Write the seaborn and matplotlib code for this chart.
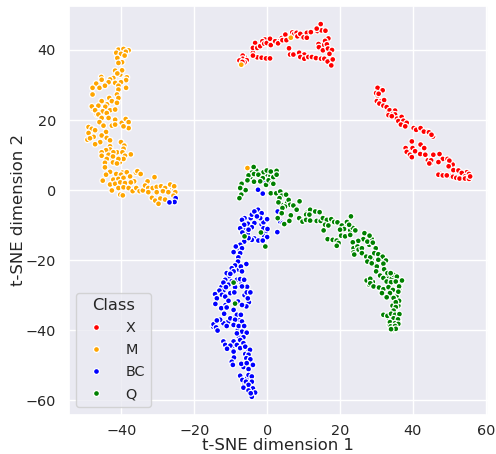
import pandas as pd
import matplotlib
matplotlib.use("Agg")
import matplotlib.pyplot as plt
import seaborn as sns

classes = ["X", "M", "BC", "Q"]
palette = ["red", "orange", "blue", "green"]

x_points = [
    (-6.1,37.9),(-7,35.9),(-3.2,40.8),(-0.6,43),(4,43.4),(6.9,45),(8.9,43.9),(14.7,40.6),(15.4,41.5),(17.6,36.7),
    (30.9,29),(30.3,28.5),(30.3,27),(31.4,24.4),(33.2,22),(37,19.4),(44,16.7),(45.5,15.3),(38.9,11.5),(38.8,10.5),
    (44.9,7.7),(50.9,7.3),(54.6,4.5),(55.1,3.6),(47.6,4.6),(50.3,4),
    (-6.7,38.4),(-6.7,37.5),(-7.6,37),(-5.6,37.1),(-6.2,36.5),(-6.8,36.6),(-3.9,39.2),(-3.3,42),(-3.9,40.6),(-2.7,40.6),
    (-1.9,41.1),(-1.3,42.5),(-0.8,41.8),(-0.1,42),(0.8,43.2),(1,41.4),(2.5,42.3),(3.4,42.5),(-2.7,37.9),(-1.5,37.8),
    (-0.3,37.6),(0.8,37.6),(-3.9,38.4),(2.2,42.5),(3,41.9),(4.2,42.8),(5,44.4),(5.3,42.8),(7.4,44.5),(8.1,44.9),
    (8.3,43.9),(9.1,44.6),(10,43.6),(10.9,44.9),(12,45.1),(13.8,45.4),(14.9,45.6),(16,45.5),(14.7,47.4),(13.6,46.1),
    (16.8,43.3),(15.9,42.6),(14.1,41.7),(16.4,41.6),(14.2,40.8),(15.3,39.9),(16.7,40.4),(17.8,40),(17.1,38.9),(6,40.5),
    (6.3,38.7),(7.2,38.7),(8.8,39.2),(10.2,38.7),(9.1,38),(10.2,37.5),(11.3,38),(12.3,38),(13.4,37.7),(14.8,37.5),
    (15.7,37.5),(16.6,36.7),(18,37.3),(17.6,35.6),(10.9,43.5),(30.3,29.2),(31.7,28.5),(29.9,27.7),(30.6,27.5),(30.1,25.4),
    (31.3,25.4),(32.1,25.7),(30.8,24.7),(31.9,24.1),(32.8,23.7),(33.6,22.8),(35.1,22.7),(34.4,21.7),(35.1,21.6),(33.3,21.4),
    (35.6,20.4),(36.9,20.9),(34.2,21.1),(36,19.7),(37.4,19.8),(38.3,19.2),(36.7,18.7),(37.9,18.2),(40.2,17.7),(40.9,17.2),
    (42.1,17.7),(43,16.7),(44.4,16.5),(45.1,15.8),(39.7,13.9),(42.1,13),(38,12),(39.9,12),(43.1,12),(38.3,10.9),
    (40.6,11.1),(39.2,10.1),(42,10.3),(43.4,10.1),(45.6,10.1),(39.7,9.4),(44.1,8.5),(45,8.5),(44.5,7.6),(47.3,10.3),
    (48.2,8.9),(47,8),(49.5,8.9),(50,8.4),(49.8,6.8),(51.1,5.7),(52.5,5.6),(54.8,5.1),(53.4,4.9),(54.3,3.9),
    (55.4,4.6),(47,4.4),(48.2,4.2),(49.3,4.2),(51,3.8),(51.9,3.5),(52.8,3.3),(54.3,3.3),(55.4,3.2),(55.7,3.9),
]

m_points = [
    (-40,39.6),(-44.7,22.5),(-47.6,23),(-46.7,21.6),(-43.9,24.5),(-40.3,33),(-41.2,10.8),(-40.4,8),(-43.5,9),(-38.8,3.8),
    (-39.7,5),(-36,5),(-27,-0.3),(-26,0.2),(-25.5,0),
    (-40.8,40.1),(-39.4,40.3),(-38,39.9),(-38.8,39.5),(-41.4,39.2),(-40.1,38.9),(-39.1,38.4),(-41.1,37.7),(-39.8,36.5),(-40.8,36.3),
    (-41.7,34.1),(-39.8,34.2),(-41.1,33.3),(-42.2,32),(-43.1,31.6),(-38.5,32.2),(-38.7,31.4),(-40.1,30.8),(-41.7,30.6),(-43.5,30.8),
    (-45.5,32.3),(-45.4,31.5),(-46.9,30.4),(-47.9,29.2),(-46,29.2),(-44.5,29.8),(-47.9,27.3),(-40.8,29.8),(-38.7,29.2),(-40.8,28.7),
    (-41.2,27.3),(-40.8,26.3),(-43.3,26.3),(-45.4,25.4),(-46.3,24.1),(-48.1,23.9),(-47.2,22.8),(-42.6,25.4),(-44.4,23.8),(-41.2,24.9),
    (-45.1,22.5),(-43.1,22.8),(-41.7,23),(-46.3,21.6),(-44,22),(-45.4,20.6),(-43.5,20.6),(-46,19.4),(-41.7,20.1),(-44.9,18.4),
    (-42.6,18.4),(-41.7,18.7),(-39.9,19.2),(-38.8,20.3),(-38,19.4),(-38,17.7),(-39.4,18.2),(-49,18),(-48.1,17.5),(-47.2,17.1),
    (-49,16.3),(-47.6,15.2),(-49.3,14.4),(-48.6,14.8),(-44.2,16.6),(-45.4,15.6),(-44,14.9),(-43.1,14.2),(-45.8,13.7),(-47.2,13.1),
    (-43.1,12.5),(-40.1,13.7),(-39.2,12.7),(-39.4,11.8),(-43.1,11.6),(-44.2,11.4),(-45.4,10.8),(-42.2,10.8),(-39.7,10.8),(-45.4,9.8),
    (-43.5,10.1),(-37.4,10.2),(-39,9.8),(-44,8.9),(-42.3,9.6),(-39.4,8.9),(-40.8,8.9),(-44.5,7.8),(-42.3,7.9),(-41.2,7.6),
    (-44.5,6.5),(-43.1,5.2),(-44.2,4.4),(-45.1,2.7),(-41.4,4.6),(-40.1,4.4),(-38.5,5.1),(-37.6,3.9),(-35.6,5.4),(-34.7,4.6),
    (-30.9,3.7),(-42.2,3),(-40.8,3.2),(-39.4,3.5),(-36.5,2.5),(-43.1,1.6),(-41.7,1.8),(-40.3,2.2),(-39,2),(-37.4,2.2),
    (-32.8,2.5),(-42.6,-0.1),(-40.8,0.6),(-39.4,0.8),(-38,0.6),(-36.9,-0.3),(-35.9,0.6),(-35,-0.3),(-34.1,-0.1),(-33.5,1.3),
    (-32.6,0.6),(-31.4,0.6),(-30.3,0.9),(-29.1,1.1),(-28,0.6),(-26.6,1.6),(-25.5,1.1),(-40.3,-1.3),(-39.6,-1.5),(-32.6,-0.6),
    (-30.3,-0.6),(-28.6,-0.3),(-27.1,-0.6),(-25.2,-0.6),(-31.6,-2.2),(-30.7,-3),(-29.3,-2.4),(-28,-2.7),(-29.8,-3.9),(-25.7,-1.6),
    (-7.1,35.8),(6.5,43.5),(-5.4,6.3),
]

bc_points = [
    (-3,-6.8),(-2,-7),(-4.5,-8),(-6.2,-8),(-1.5,-9.8),(-0.5,-12),(-6,-11),(-5.3,-12.5),(-3.5,-13.8),(-7.5,-17),
    (-8.6,-22.8),(-7.8,-22.7),(-10.5,-24.6),(-9.7,-26),(-7,-26.5),(-5.5,-27.6),(-12.5,-27.6),(-12,-28.7),(-6.2,-30),(-5,-32),
    (-11.4,-32.8),(-8.6,-36),(-10.7,-37.6),(-7.6,-37),(-12,-38),(-14.8,-39),(-8,-39.8),(-7.7,-42),(-9.6,-45),(-8,-43.5),
    (-5.2,-46),(-4.9,-49),(-6.5,-50.5),(-5.5,-53.7),(-6.2,-55.5),(-4.5,-56),(-4.2,-57.5),
    (-25.1,-2.3),(-25.4,-3.4),(-26.8,-3.5),(-2.5,0.1),(-1.2,-1),(-0.7,2.2),(2.9,-6.1),(3.6,-9),(2.8,-12),(4.3,-9.4),
    (-2.5,-5.6),(-4.2,-7),(-3.5,-6.1),(-1.5,-6.6),(-1,-9.2),(0,-8.3),(-1.9,-8),(-2.8,-7.5),(-3.5,-9.4),(-5.3,-9.6),
    (-6.9,-8.5),(-6.3,-9.9),(-4.2,-10.6),(-5.1,-11.3),(-1,-10.9),(0.1,-11.1),(-7.4,-10.9),(-6.8,-12.1),(-0.8,-13.1),(0,-13.4),
    (-2.4,-14.4),(-1.2,-14.4),(-4.2,-14.2),(-5.1,-13.7),(-6.3,-14.7),(-7.4,-15.6),(-8.6,-16.1),(-6.9,-16.6),(-9.2,-17.7),(-7.4,-18),
    (-7.9,-19.2),(-8,-20.4),(-8.8,-21.5),(-5.7,-21.1),(-7.2,-21.8),(-9.7,-22.3),(-11.1,-23.7),(-9.2,-23.2),(-6.9,-23.2),(-10.1,-23.9),
    (-11.5,-25.6),(-10.6,-27),(-8.3,-25.6),(-7.4,-25.4),(-6.3,-25.6),(-12,-26.4),(-13.1,-28.7),(-11.3,-27.7),(-8.8,-27.7),(-6.9,-27.5),
    (-5.6,-29.2),(-4.6,-29.2),(-14.3,-29.7),(-12.4,-29.9),(-11.5,-30.4),(-10.1,-29.4),(-9,-29.2),(-13.8,-30.9),(-14.2,-32.5),(-10.6,-31.6),
    (-8,-31.8),(-5.7,-33.2),(-6.9,-32.8),(-5.3,-30.9),(-12.6,-33.7),(-11.1,-33.5),(-9.2,-34.2),(-11.8,-35.3),(-8.3,-35.6),(-7.2,-35.6),
    (-12.9,-37),(-10.1,-36.6),(-8.8,-37),(-6.9,-37.5),(-14.7,-38.3),(-13.8,-37.2),(-14,-39.2),(-13.6,-40.1),(-11.1,-38.8),(-9.2,-38.5),
    (-7.8,-38.8),(-6.3,-38.8),(-6.9,-40.4),(-8.3,-40.9),(-5.6,-40.7),(-6.5,-42),(-7.4,-42.8),(-12,-43.2),(-11.5,-44.2),(-9.2,-43.2),
    (-8.3,-44.2),(-6.5,-43.7),(-10.1,-44.4),(-11,-45.3),(-7.4,-45.1),(-6,-44.7),(-4.7,-45.6),(-9.2,-46.1),(-6,-46.8),(-5.1,-47),
    (-9.1,-47.8),(-5.7,-48),(-4.6,-48.3),(-9.7,-49),(-9.4,-49.9),(-7.1,-49.6),(-5.6,-49.4),(-3.9,-49.9),(-5.1,-51.1),(-7.4,-53),
    (-5.1,-52.8),(-4.2,-53.2),(-6.8,-54.2),(-5.8,-54.7),(-4.2,-54.7),(-5.1,-55.6),(-6.5,-56.4),(-3.9,-56.6),(-3.3,-57.8),(-5.1,-57.2),
    (-4.2,-59),(-4.5,-58),
]

q_points = [
    (-3,5.6),(0,4.5),(0.9,4),(-4.6,3.7),(-1,5.1),(5.5,-3.6),(3.9,-4.2),(6.5,-7.2),(10.8,-6.5),(11,-7.8),
    (16,-9.2),(17,-9),(20.5,-10.8),(21.5,-10),(22.8,-11.5),(23.5,-10.8),(28.7,-14),(28,-15.6),(29.6,-17.2),(30.8,-18.6),
    (31.5,-19.6),(24.6,-15.2),(24.3,-17.4),(28.6,-19.8),(29.3,-21.2),(33.2,-25),(34.2,-25.3),(36.5,-26.6),(36.2,-28.3),(34,-30.2),
    (35.5,-30.4),(36,-33),(34.4,-33),(35,-34.9),(33.4,-36.6),(36.1,-37.5),(34.3,-37.2),(34.5,-39.2),(33.5,-38.3),(28,-27),(29,-26.2),
    (-3.7,6.6),(-4.2,5),(-5.1,4.2),(-3.6,4.6),(-2.4,4.4),(-0.1,5.6),(1,5.3),(2.6,5.5),(-1.2,3.4),(-1.9,2.5),
    (-3.6,2.4),(-5.4,2.8),(-7,1.8),(-5.9,0),(-7.4,0.6),(-7.1,-1.3),(-7.6,-2.3),(-0.3,1.5),(0.4,2.8),(1.7,3.7),
    (1.3,2),(2.6,4.4),(1.7,1.8),(1,-0.9),(2.5,-0.9),(3.6,-0.4),(4,-1.6),(5.2,-1.3),(3.4,-2.3),(3.1,-3.5),
    (5.9,-2.8),(6.3,-4.2),(4.9,-4.7),(4.2,-5.1),(7.2,-4.4),(8.9,-3.2),(8.1,-5.6),(4,-6.6),(2.9,-8),(4.7,-9.7),
    (6.1,-8.8),(8.8,-8),(9.7,-9),(10.7,-7),(11.8,-5.6),(13.2,-6.1),(14.4,-6.3),(11.6,-7),(10.7,-8.5),(11.8,-8.7),
    (13.6,-8.8),(14.7,-8.8),(15.3,-8),(16.4,-8.5),(15.9,-9.9),(16.8,-10.1),(17.6,-8.3),(18.4,-9.1),(19.3,-9.2),(23,-7.5),
    (21.9,-9.1),(22.5,-9.9),(20.5,-10.1),(21.1,-11.1),(20,-11.3),(24.2,-11.5),(15.5,-11.5),(20.3,-13),(21.4,-13.2),(22.8,-12.8),
    (16.6,-14),(18,-14.2),(19.1,-14.4),(19.6,-15.1),(19.1,-15.9),(26.7,-12.3),(28.1,-13),(26.4,-14),(25,-14.5),(23.5,-14.9),
    (23.7,-16.6),(24.8,-16.1),(27.5,-14.7),(29,-15),(23.7,-17.8),(25.1,-17),(26,-16.6),(29.8,-16.6),(26,-18),(23.9,-18.4),
    (27.2,-19),(28.3,-19.2),(29.4,-18),(30.5,-18.3),(31.7,-19),(30.5,-19.9),(32.6,-20.1),(27.5,-20.4),(28.7,-20.9),(30.1,-21.8),
    (31.9,-21),(29.9,-23.2),(32.1,-22.6),(31,-24.4),(33,-23.7),(34.7,-24.2),(33.9,-23.7),(31.9,-25.1),(35.6,-24.7),(32.8,-26.1),
    (37,-25.8),(27.3,-25.8),(28.3,-25.3),(28.3,-26.6),(29.2,-27.5),(34,-26.3),(35.3,-26.1),(36.2,-27.5),(30.7,-27.8),(31.9,-28.3),
    (33.3,-27.7),(34.5,-28.5),(31.5,-29.4),(33.7,-29.4),(36,-29),(32.8,-30.6),(34.7,-30.8),(36.2,-31.6),(35.3,-32),(35.3,-33.4),
    (34.7,-34.4),(31.9,-35.6),(33,-35.9),(34,-35.3),(35.1,-35.6),(36.3,-35.4),(34.7,-36.6),(35.9,-36.9),(33.7,-37.7),(35.1,-38),
    (36,-38.2),(33.9,-38.9),(35.1,-38.8),(34.7,-39.9),(35.3,-39.6),(34,-39.7),(-6.2,-13.2),(-1.7,-12.1),(-0.5,-16.1),(-9.2,-26.4),
    (-8.8,-32.4),
]

frames = []
for name, pts in zip(classes, [x_points, m_points, bc_points, q_points]):
    d = pd.DataFrame(pts, columns=["x", "y"])
    d["Class"] = name
    frames.append(d)
df = pd.concat(frames, ignore_index=True)

sns.set_theme(style="darkgrid")
plt.rcParams["font.family"] = ["DejaVu Sans"]

fig = plt.figure(figsize=(4.96, 4.54), dpi=100)
ax = fig.add_axes([68.5 / 496, 1 - 415 / 454, (488 - 68.5) / 496, (415 - 5.5) / 454])

sns.scatterplot(data=df, x="x", y="y", hue="Class", hue_order=classes,
                palette=palette, s=18, edgecolor="white", linewidth=0.9, ax=ax)

ax.set_xlim(-54.5, 60.6)
ax.set_ylim(-64.2, 52.7)
ax.set_xticks([-40, -20, 0, 20, 40, 60])
ax.set_yticks([-60, -40, -20, 0, 20, 40])
ax.tick_params(labelsize=10.4)
ax.tick_params(axis="x", pad=0.5)
ax.tick_params(axis="y", pad=3)
ax.set_xlabel("t-SNE dimension 1", fontsize=11.85, labelpad=0)
ax.set_ylabel("t-SNE dimension 2", fontsize=11.85, labelpad=0)
ax.legend(title="Class", loc="lower left", bbox_to_anchor=(0.001, 0.002), fontsize=10.4,
          title_fontsize=11.7, labelspacing=0.55, handletextpad=1.0)

plt.savefig("out.png", dpi=100)
